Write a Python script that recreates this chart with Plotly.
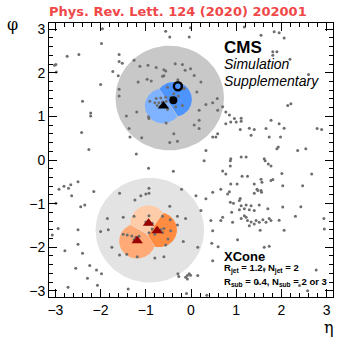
import numpy as np
import plotly.graph_objects as go

# ---------------- data (eta, phi) ----------------
particle_eta = [
 -1.96,-0.56,-0.01,-0.47,-0.04,-1.98,-2.74,-2.48,-1.59,-1.59,-1.52,-1.26,-2.99,-3.02,-2.98,-1.73,-1.61,-1.13,-0.95,-0.77,
 -0.60,-0.56,-0.35,-0.19,-0.13,-0.01,-0.60,-0.63,-0.97,-0.88,-1.17,-2.00,-1.59,-0.52,-0.29,-0.19,-0.15,-1.59,-0.77,-0.67,
 -0.56,-0.91,-0.80,-0.71,-0.63,-0.55,-0.45,-0.38,-0.28,-0.75,-0.67,-0.52,-0.34,-0.19,-2.40,-2.22,-2.22,-1.43,-1.20,-0.94,
 -0.93,-0.55,-1.37,-2.42,-0.38,-1.35,-1.09,-0.47,-0.30,-2.26,-1.21,
 1.18,1.55,1.84,1.95,2.06,1.81,1.90,1.81,2.19,2.60,2.14,2.21,0.22,0.07,0.13,0.33,0.48,0.58,0.18,0.59,0.18,0.07,0.18,0.70,
 0.77,0.85,0.96,0.88,1.00,1.11,1.11,0.77,0.59,0.48,0.55,1.09,1.29,1.40,1.66,1.77,1.95,2.06,2.79,2.89,1.33,1.73,1.98,0.33,
 1.93,1.90,2.36,2.54,1.11,1.22,0.88,1.62,
 -0.94,-0.39,-2.92,-2.81,-2.71,-2.66,-2.50,-2.15,-2.64,-2.99,-2.44,-2.35,-1.58,-1.11,-1.00,-0.93,-0.93,-1.24,-0.21,-0.47,
 -1.85,-1.50,-1.26,-0.93,-1.00,-0.97,-0.93,-0.86,-0.63,-0.30,-0.12,-0.46,-0.30,-2.94,-3.07,-2.50,-2.00,-1.83,-1.50,-1.41,
 -1.31,-1.22,-1.15,-1.19,-1.26,-0.86,-0.75,-0.67,-0.60,-0.93,-0.80,-0.63,-0.51,-0.45,-0.56,-0.17,-1.75,-2.50,-2.79,-2.40,
 -1.58,-1.42,-1.19,-0.80,-0.60,-2.24,-2.55,-2.09,-1.98,-2.29,-2.07,-2.72,-1.39,-0.29,-0.27,-0.12,-0.08,-0.04,-0.01,-0.08,
 0.29,0.87,0.87,1.64,1.71,1.77,0.70,0.77,1.13,1.25,2.01,2.67,1.77,1.81,1.55,1.57,1.02,0.88,0.66,0.85,
 0.81,1.40,1.46,1.48,1.55,1.56,1.40,2.03,2.47,0.48,0.33,0.11,1.09,1.07,0.87,0.94,1.11,1.22,1.33,1.51,
 1.07,1.18,1.29,1.40,1.70,2.03,2.43,1.18,1.22,1.11,0.90,0.22,0.70,0.44,0.66,0.92,1.25,1.33,1.44,1.51,
 1.59,1.66,1.77,1.73,1.29,1.40,1.95,2.31,2.94,2.95,2.06,0.48,1.03,0.15,1.62,1.73,0.48,2.77,1.62,0.15,
 1.48,2.58,2.40,0.46,0.60,1.53,-0.10,0.35,
]
particle_phi = [
 3.01,2.95,3.03,2.82,2.82,2.67,2.38,2.42,2.42,2.26,2.22,2.29,2.19,2.17,2.02,2.03,1.93,2.15,2.17,2.12,
 2.07,2.04,2.21,2.19,2.06,2.09,1.93,1.92,1.85,1.81,1.79,1.73,1.62,1.67,1.84,1.64,1.64,1.47,1.41,1.42,
 1.44,1.35,1.31,1.31,1.33,1.35,1.44,1.52,1.47,1.25,1.23,1.16,1.22,1.25,1.35,1.08,1.01,1.01,1.10,0.99,
 0.95,0.85,0.72,0.63,0.60,0.53,0.51,0.40,0.43,0.24,0.14,
 3.05,2.86,2.94,2.92,2.80,2.48,2.48,2.40,2.31,1.96,1.25,1.29,1.79,1.94,1.56,1.27,1.31,1.41,1.14,1.14,0.91,0.80,0.72,1.22,
 1.10,1.03,0.95,0.87,0.87,0.96,0.89,0.83,0.60,0.53,0.53,0.70,0.73,0.70,0.72,0.91,0.83,0.73,0.72,0.70,0.57,0.53,0.53,0.22,
 0.30,0.26,0.22,0.26,0.07,0.07,0.03,0.03,
 -0.19,-0.26,-0.67,-0.60,-0.65,-0.57,-0.50,-0.72,-0.82,-0.99,-1.07,-1.03,-0.76,-0.82,-0.78,-0.76,-0.65,-0.92,-0.67,-1.06,
 -1.34,-1.31,-1.29,-1.28,-1.42,-1.47,-1.43,-1.45,-1.29,-1.29,-1.34,-1.37,-1.49,-1.57,-1.72,-1.60,-1.64,-1.60,-1.70,-1.72,
 -1.74,-1.77,-1.75,-1.85,-1.83,-1.58,-1.57,-1.60,-1.57,-1.67,-1.70,-1.66,-1.81,-1.62,-1.95,-1.87,-2.00,-1.93,-2.08,-2.14,
 -2.18,-2.16,-2.22,-2.25,-2.22,-2.42,-2.48,-2.52,-2.61,-2.71,-2.87,-2.92,-2.96,-2.61,-2.67,-2.69,-2.65,-2.61,-2.64,-2.73,
 -0.02,-0.02,-0.14,-0.02,-0.09,-0.14,-0.25,-0.32,-0.37,-0.37,-0.31,-0.32,-0.47,-0.45,-0.44,-0.51,-0.55,-0.55,-0.67,-0.73,
 -0.78,-0.55,-0.67,-0.70,-0.70,-0.74,-0.76,-0.59,-0.59,-0.74,-0.89,-0.82,-0.88,-0.93,-0.97,-0.99,-1.05,-1.03,-1.05,-1.03,
 -1.14,-1.12,-1.14,-1.16,-1.12,-1.08,-1.07,-1.28,-1.31,-1.34,-1.20,-1.16,-1.31,-1.39,-1.39,-1.43,-1.39,-1.42,-1.39,-1.43,
 -1.37,-1.43,-1.39,-1.34,-1.51,-1.47,-1.38,-1.29,-1.34,-1.58,-1.61,-1.62,-1.83,-2.00,-2.00,-1.98,-2.31,-2.52,-2.50,-2.65,
 -2.82,-3.00,-2.88,-1.91,-1.99,-1.61,-3.06,-3.10,
]

# XCone jets (R = 1.2) and subjets (R = 0.4)
jet_eta = [-0.47, -0.91]
jet_phi = [1.42, -1.61]
jet_colors = ["#c8c8c8", "#e3e3e3"]
jet_R = 1.2

blue_sub_eta = [-0.38, -0.62]
blue_sub_phi = [1.39, 1.24]
blue_sub_colors = ["#4d94ff", "#80b3ff"]

orange_sub_eta = [-0.94, -0.71, -1.19]
orange_sub_phi = [-1.44, -1.60, -1.86]
orange_sub_colors = ["#ffccaa", "#ff8c40", "#ffaa77"]
sub_R = 0.4

# generator-level objects
lep_top_b = ([-0.61], [1.24])       # triangle
lep_top_l = ([-0.39], [1.37])       # filled circle
lep_top_nu = ([-0.29], [1.69])      # open circle
had_top_q_eta = [-0.94, -0.75, -1.19]
had_top_q_phi = [-1.45, -1.62, -1.85]


def circle(ce, cp, R, n=120):
    t = np.linspace(0, 2 * np.pi, n)
    return ce + R * np.cos(t), cp + R * np.sin(t)


def voronoi_disc(i, es, ps, R, n=180):
    c = np.array([es[i], ps[i]])
    th = np.linspace(0, 2 * np.pi, n)
    xs, ys = [], []
    for a in th:
        d = np.array([np.cos(a), np.sin(a)])
        r = R
        for j in range(len(es)):
            if j == i:
                continue
            o = np.array([es[j], ps[j]])
            v = o - c
            L = np.linalg.norm(v)
            nv = v / L
            dn = d @ nv
            if dn > 1e-9:
                r = min(r, L / (2 * dn))
        xs.append(c[0] + r * d[0])
        ys.append(c[1] + r * d[1])
    return xs, ys


fig = go.Figure()

for e, p, col in zip(jet_eta, jet_phi, jet_colors):
    x, y = circle(e, p, jet_R)
    fig.add_trace(go.Scatter(x=x, y=y, mode="lines", fill="toself", fillcolor=col,
                             line=dict(width=0, color=col), hoverinfo="skip", showlegend=False))

for es, ps, cols in [(blue_sub_eta, blue_sub_phi, blue_sub_colors),
                     (orange_sub_eta, orange_sub_phi, orange_sub_colors)]:
    for i in range(len(es)):
        x, y = voronoi_disc(i, es, ps, sub_R)
        fig.add_trace(go.Scatter(x=x, y=y, mode="lines", fill="toself", fillcolor=cols[i],
                                 line=dict(width=0, color=cols[i]), hoverinfo="skip", showlegend=False))

fig.add_trace(go.Scatter(x=particle_eta, y=particle_phi, mode="markers",
                         marker=dict(size=3, color="#6e6e6e"), showlegend=False))

fig.add_trace(go.Scatter(x=lep_top_b[0], y=lep_top_b[1], mode="markers",
                         marker=dict(symbol="triangle-up", size=10, color="black"), showlegend=False))
fig.add_trace(go.Scatter(x=lep_top_l[0], y=lep_top_l[1], mode="markers",
                         marker=dict(symbol="circle", size=8, color="black"), showlegend=False))
fig.add_trace(go.Scatter(x=lep_top_nu[0], y=lep_top_nu[1], mode="markers",
                         marker=dict(symbol="circle-open", size=8, color="black", line=dict(width=2.5)),
                         showlegend=False))
fig.add_trace(go.Scatter(x=had_top_q_eta, y=had_top_q_phi, mode="markers",
                         marker=dict(symbol="triangle-up", size=10, color="#990000"), showlegend=False))

axis_common = dict(
    showgrid=False, zeroline=False, showline=True, linecolor="black", linewidth=1,
    mirror="ticks", ticks="inside", ticklen=8, tickcolor="black", dtick=1,
    automargin=False,
    tickfont=dict(family="Liberation Sans, Arial", size=14, color="black"),
    minor=dict(ticks="inside", ticklen=4, dtick=0.2, tickcolor="black", showgrid=False),
)
fig.update_xaxes(range=[-np.pi, np.pi], tick0=0, **axis_common)
fig.update_yaxes(range=[-np.pi, np.pi], tick0=0, **axis_common)

def px(X):
    return (X - 49) / 284

def py(Y):
    return (297 - Y) / 274

ann = []
ann.append(dict(x=px(178), y=py(11), text="<b>Phys. Rev. Lett. 124 (2020) 202001</b>",
                font=dict(family="DejaVu Sans", size=13, color="#f04848")))
ann.append(dict(x=px(12), y=py(25), text="φ", font=dict(family="DejaVu Serif", size=16, color="black")))
ann.append(dict(x=px(329), y=py(327), text="η", font=dict(family="DejaVu Serif", size=16, color="black")))
ann.append(dict(x=px(222), y=py(47.5), text="<b>CMS</b>", xanchor="left",
                font=dict(family="Liberation Sans, Arial", size=17, color="black")))
ann.append(dict(x=px(222), y=py(64), text="<i>Simulation</i>", xanchor="left",
                font=dict(family="Liberation Sans, Arial", size=14, color="black")))
ann.append(dict(x=px(222), y=py(81), text="<i>Supplementary</i>", xanchor="left",
                font=dict(family="Liberation Sans, Arial", size=14, color="black")))
ann.append(dict(x=px(222), y=py(256), text="<b>XCone</b>", xanchor="left",
                font=dict(family="Liberation Sans, Arial", size=13, color="black")))
ann.append(dict(x=px(222), y=py(268), text="<b>R<sub>jet</sub> = 1.2, N<sub>jet</sub> = 2</b>", xanchor="left",
                font=dict(family="Liberation Sans, Arial", size=9.5, color="black")))
ann.append(dict(x=px(222), y=py(282), text="<b>R<sub>sub</sub> = 0.4, N<sub>sub</sub> = 2 or 3</b>", xanchor="left",
                font=dict(family="Liberation Sans, Arial", size=9.5, color="black")))
for a in ann:
    a.setdefault("xanchor", "center")
    a.update(xref="paper", yref="paper", yanchor="middle", showarrow=False)

fig.update_layout(
    width=337, height=337,
    margin=dict(l=49, r=4, t=23, b=40),
    paper_bgcolor="white", plot_bgcolor="white",
    annotations=ann, showlegend=False,
)

fig.write_html("out.html", config={"displayModeBar": False},
               post_script="document.body.style.margin='0';document.body.style.padding='0';")
